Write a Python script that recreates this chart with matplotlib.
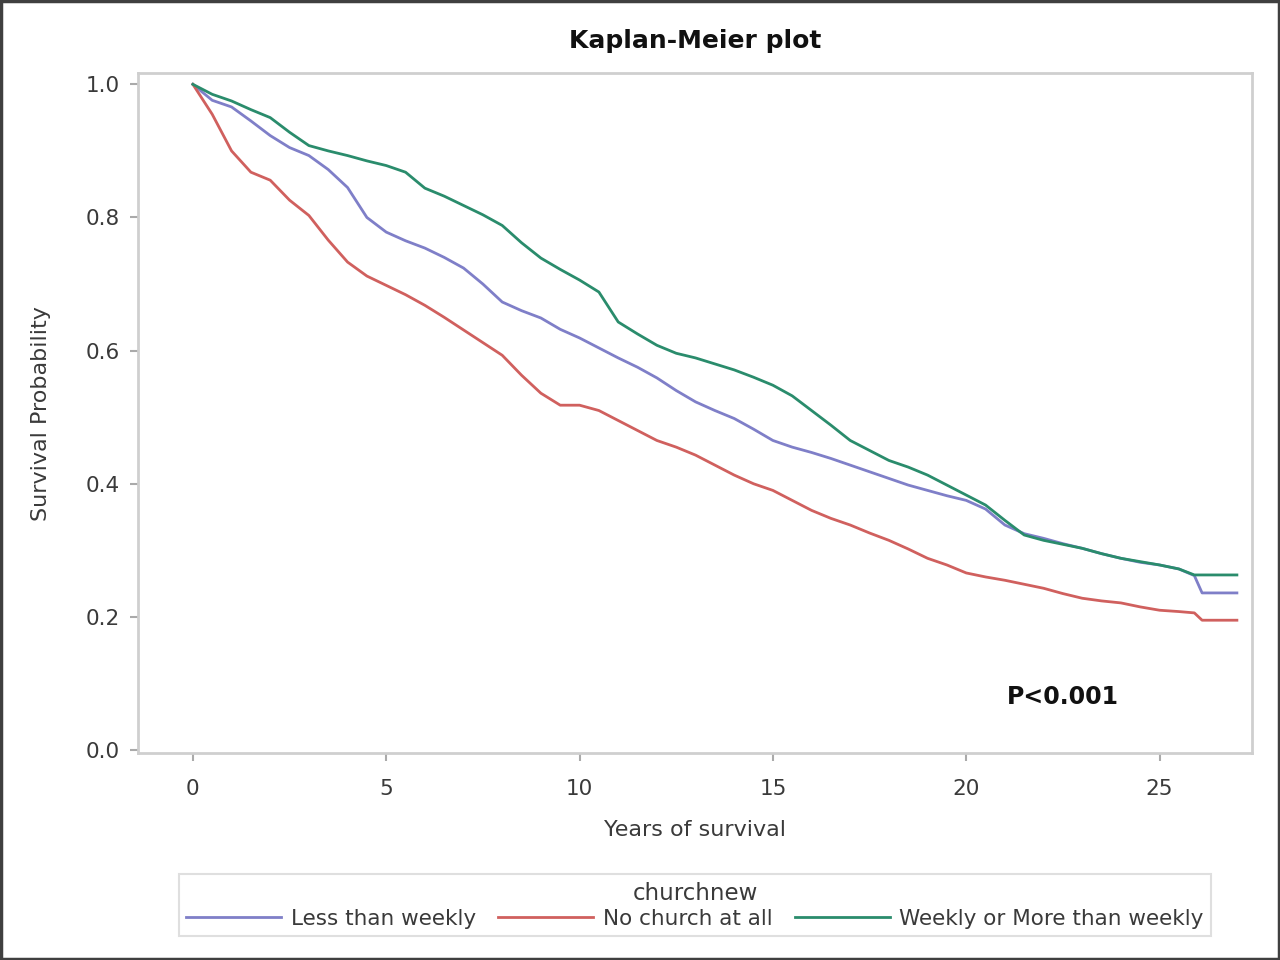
import matplotlib
matplotlib.use('Agg')
from matplotlib import pyplot as plt
from matplotlib.patches import Rectangle
import numpy as np

# survival estimates, one value every half year
years = [0, 0.5, 1, 1.5, 2, 2.5, 3, 3.5, 4, 4.5, 5, 5.5, 6, 6.5, 7, 7.5, 8, 8.5, 9, 9.5,
         10, 10.5, 11, 11.5, 12, 12.5, 13, 13.5, 14, 14.5, 15, 15.5, 16, 16.5, 17, 17.5,
         18, 18.5, 19, 19.5, 20, 20.5, 21, 21.5, 22, 22.5, 23, 23.5, 24, 24.5, 25, 25.5,
         25.9, 26.1, 27]

less_weekly = [1.0, 0.976, 0.966, 0.945, 0.923, 0.905, 0.893, 0.872, 0.845, 0.800, 0.778, 0.765,
               0.754, 0.740, 0.724, 0.700, 0.673, 0.660, 0.649, 0.632, 0.619, 0.604, 0.589, 0.575,
               0.559, 0.540, 0.523, 0.510, 0.498, 0.482, 0.465, 0.455, 0.447, 0.438, 0.428, 0.418,
               0.408, 0.398, 0.390, 0.382, 0.375, 0.362, 0.338, 0.325, 0.318, 0.310, 0.303, 0.295,
               0.288, 0.282, 0.278, 0.272, 0.262, 0.236, 0.236]
no_church = [1.0, 0.955, 0.900, 0.868, 0.856, 0.826, 0.803, 0.766, 0.733, 0.712, 0.698, 0.684,
             0.668, 0.650, 0.631, 0.612, 0.593, 0.563, 0.536, 0.518, 0.518, 0.510, 0.495, 0.480,
             0.465, 0.455, 0.443, 0.428, 0.413, 0.400, 0.390, 0.375, 0.360, 0.348, 0.338, 0.326,
             0.315, 0.302, 0.288, 0.278, 0.266, 0.260, 0.255, 0.249, 0.243, 0.235, 0.228, 0.224,
             0.221, 0.215, 0.210, 0.208, 0.206, 0.195, 0.195]
weekly = [1.0, 0.985, 0.975, 0.962, 0.950, 0.928, 0.908, 0.900, 0.893, 0.885, 0.878, 0.868,
          0.844, 0.832, 0.818, 0.804, 0.788, 0.762, 0.739, 0.722, 0.706, 0.688, 0.643, 0.625,
          0.608, 0.596, 0.589, 0.580, 0.571, 0.560, 0.548, 0.532, 0.510, 0.488, 0.465, 0.450,
          0.435, 0.425, 0.413, 0.398, 0.383, 0.368, 0.345, 0.323, 0.315, 0.309, 0.303, 0.295,
          0.288, 0.283, 0.278, 0.272, 0.263, 0.263, 0.263]

labels = ['Less than weekly', 'No church at all', 'Weekly or More than weekly']
colors = ['#7f7fc8', '#d0605e', '#2a8c6c']

TXT = '#3a3a3a'

fig = plt.figure(figsize=(12.8, 9.6), dpi=100)
ax = fig.add_axes([0.1078, 0.2156, 0.870, 0.708])

handles = []
for series, lab, col in zip([less_weekly, no_church, weekly], labels, colors):
    h, = ax.plot(years, series, color=col, linewidth=2.0, label=lab)
    handles.append(h)

ax.set_xlim(-1.42, 27.38)
ax.set_ylim(-0.0045, 1.0165)
ax.set_xticks([0, 5, 10, 15, 20, 25])
ax.set_yticks([0.0, 0.2, 0.4, 0.6, 0.8, 1.0])
ax.set_yticklabels(['0.0', '0.2', '0.4', '0.6', '0.8', '1.0'])
for s in ax.spines.values():
    s.set_color('#cfcfcf')
    s.set_linewidth(2.0)
ax.tick_params(colors='#aaaaaa', labelcolor=TXT, labelsize=15.5, length=6, width=1.5,
               direction='out')
ax.tick_params(axis='x', pad=13)
ax.tick_params(axis='y', pad=7)

ax.set_xlabel('Years of survival', fontsize=16, color=TXT, labelpad=15)
ax.set_ylabel('Survival Probability', fontsize=16, color=TXT, labelpad=25)
ax.set_title('Kaplan-Meier plot', fontsize=18, fontweight='bold', color='#111111', pad=18)

ax.text(22.5, 0.08, 'P<0.001', fontsize=17, fontweight='bold', color='#111111',
        ha='center', va='center')

leg = fig.legend(handles=handles, loc='center', bbox_to_anchor=(0.543, 0.057), ncol=3,
                 title='churchnew', fontsize=15.5, title_fontsize=16.5, frameon=True,
                 fancybox=False, edgecolor='#d8d8d8', handlelength=4.4, columnspacing=1.05,
                 handletextpad=0.45, borderpad=0.35, labelspacing=0.2)
for t in leg.get_texts():
    t.set_color(TXT)
leg.get_title().set_color(TXT)
leg.get_frame().set_linewidth(1.5)

# outer frame of the picture
fig.patches.append(Rectangle((0.001, 0.001), 0.998, 0.998, transform=fig.transFigure,
                             fill=False, edgecolor='#404040', linewidth=2.5))

fig.savefig('out.png', dpi=100)
